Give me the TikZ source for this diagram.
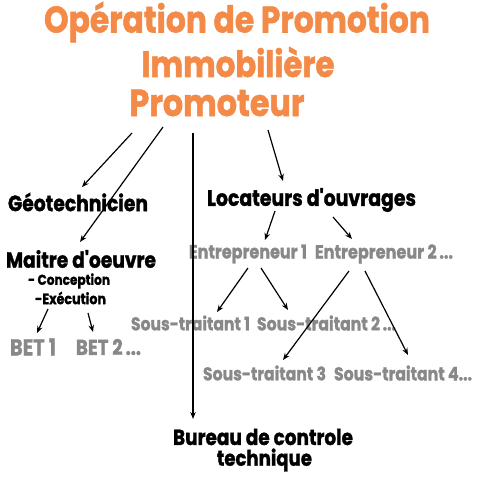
\documentclass[tikz,border=0pt]{standalone}
\usepackage{fontspec}
\setmainfont{Poppins}[Ligatures=TeXOff,BoldFeatures={FakeBold=1.5}]
\usetikzlibrary{arrows.meta}
\definecolor{orng}{HTML}{F48A48}
\definecolor{gry}{HTML}{888888}
\newcommand{\fitw}[2]{\resizebox{#1pt}{!}{\scalebox{1}[1.18]{#2}}}
\tikzset{
  lbl/.style={inner sep=0pt, anchor=center, font=\bfseries},
  ttl/.style={lbl, text=orng},
  blk/.style={lbl, text=black},
  gy/.style={lbl, text=gry},
  arr/.style={line width=1.2pt, -{Stealth[length=7pt,width=5.5pt]}}
}
\begin{document}
\begin{tikzpicture}[x=1pt,y=-1pt]
\useasboundingbox (0,0) rectangle (480,480);
\node[ttl] (t1) at (237,22) {\fitw{386}{Opération de Promotion}};
\node[ttl] (t2) at (238,62) {\fitw{193}{Immobilière}};
\node[ttl] (t3) at (217,103) {\fitw{175}{Promoteur}};
\node[blk] (geo) at (78,202) {\fitw{140}{Géotechnicien}};
\node[blk] (moe) at (81,259) {\fitw{150}{Maitre d'oeuvre}};
\node[blk] (conc) at (69,281) {\fitw{82}{- Conception}};
\node[blk] (exec) at (70.5,298) {\fitw{71}{-Exécution}};
\node[gy] (bet1) at (33,347) {\fitw{46}{BET 1}};
\node[gy] (bet2) at (108.5,347) {\fitw{65}{BET 2\,...}};
\node[blk] (loc) at (311.5,200) {\fitw{209}{Locateurs d'ouvrages}};
\node[gy] (e1) at (248,254) {\fitw{118}{Entrepreneur 1}};
\node[gy] (e2) at (384,254) {\fitw{138}{Entrepreneur 2\,...}};
\node[gy] (s1) at (190.5,323) {\fitw{119}{Sous-traitant 1}};
\node[gy] (s2) at (326.5,323) {\fitw{139}{Sous-traitant 2\,...}};
\node[gy] (s3) at (264.5,373) {\fitw{123}{Sous-traitant 3}};
\node[gy] (s4) at (403,373) {\fitw{138}{Sous-traitant 4...}};
\node[blk] (bc1) at (263,437) {\fitw{180}{Bureau de controle}};
\node[blk] (bc2) at (264.5,460) {\fitw{95}{technique}};
% connector ends
\coordinate (p1) at (132,133); \coordinate (g1) at (82,187);
\coordinate (p2) at (163,127); \coordinate (m1) at (80,242);
\coordinate (p3) at (193,133); \coordinate (b1) at (193,419);
\coordinate (p4) at (268,130); \coordinate (l1) at (283,181);
\coordinate (l2) at (275,211); \coordinate (e1t) at (265,240);
\coordinate (l3) at (333,217); \coordinate (e2t) at (352,239);
\coordinate (e1a) at (248,268); \coordinate (s1t) at (217,312);
\coordinate (e1b) at (261,268); \coordinate (s2t) at (288,310);
\coordinate (e2a) at (349,271); \coordinate (s3t) at (283,360);
\coordinate (e2b) at (365,271); \coordinate (s4t) at (408,355);
\coordinate (x1) at (48,309); \coordinate (bt1) at (37,333);
\coordinate (x2) at (88,313); \coordinate (bt2) at (93,332);
\draw[arr] (p1) -- (g1);
\draw[arr] (p2) -- (m1);
\draw[arr] (p3) -- (b1);
\draw[arr] (p4) -- (l1);
\draw[arr] (l2) -- (e1t);
\draw[arr] (l3) -- (e2t);
\draw[arr] (e1a) -- (s1t);
\draw[arr] (e1b) -- (s2t);
\draw[arr] (e2a) -- (s3t);
\draw[arr] (e2b) -- (s4t);
\draw[arr] (x1) -- (bt1);
\draw[arr] (x2) -- (bt2);
\end{tikzpicture}
\end{document}
